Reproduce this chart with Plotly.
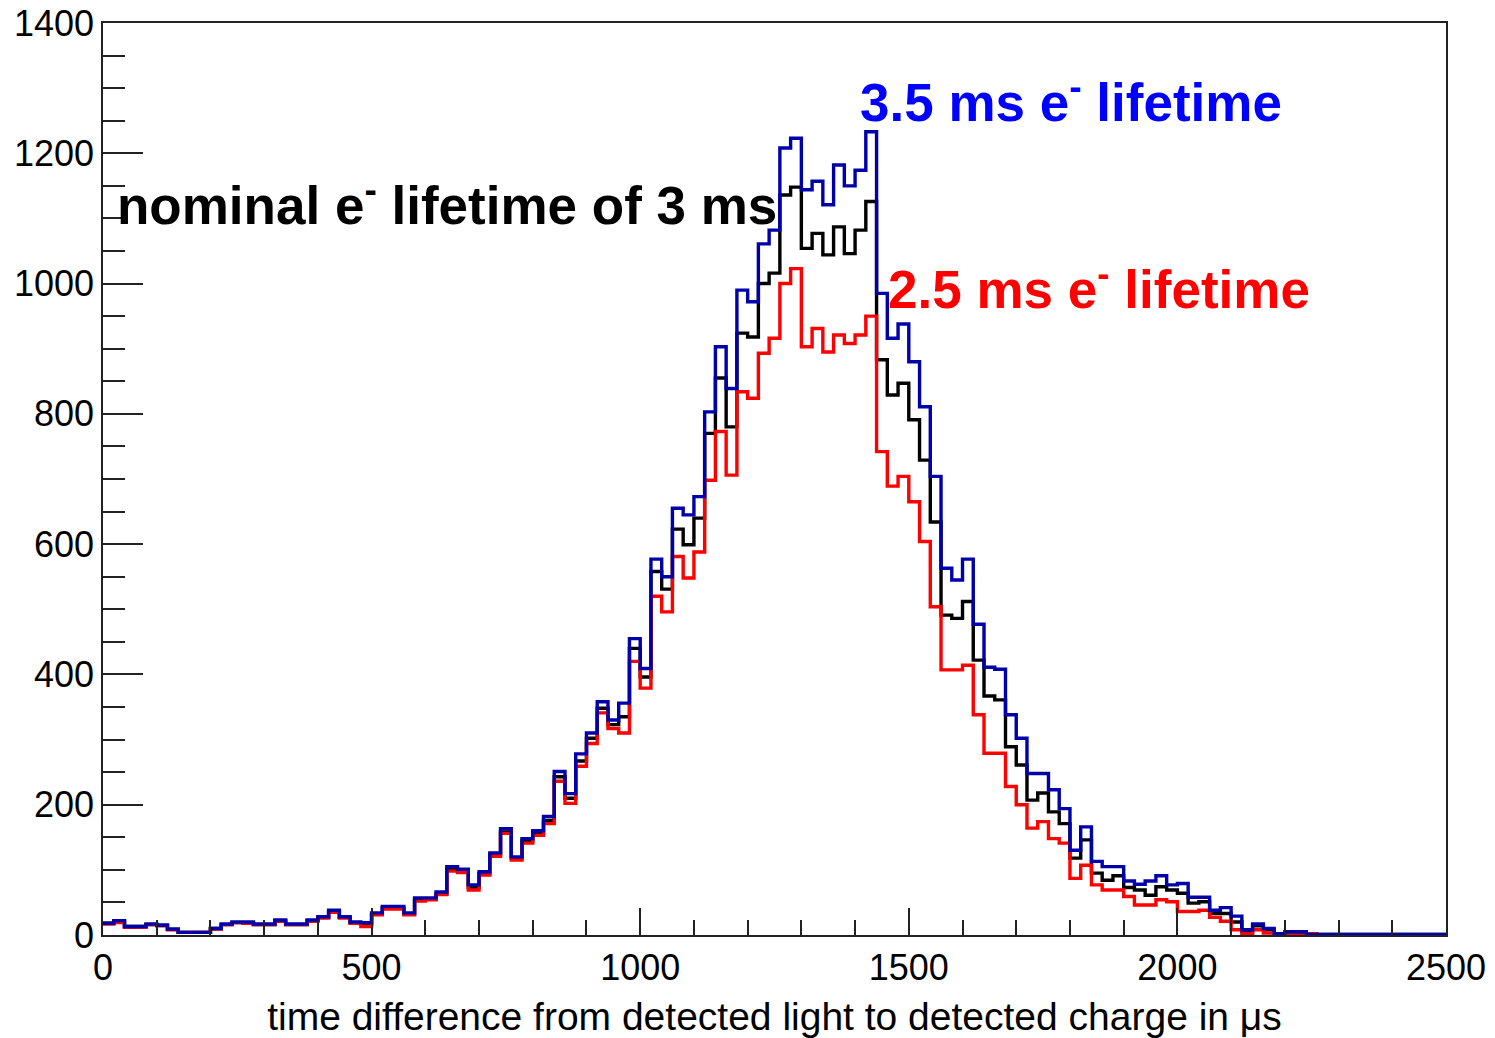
import plotly.graph_objects as go

# Histogram: 125 bins of 20 us from 0 to 2500 us
BIN_WIDTH = 20
N_BINS = 125
bin_edges = [i * BIN_WIDTH for i in range(N_BINS + 1)]

# 3.5 ms electron lifetime (blue)
counts_35ms = [
    18, 22, 13, 13, 17, 15, 9, 4, 4, 4,
    10, 17, 20, 20, 17, 17, 23, 17, 17, 23,
    28, 38, 28, 20, 19, 34, 44, 44, 34, 57,
    57, 66, 105, 101, 77, 97, 126, 163, 120, 148,
    160, 182, 251, 217, 278, 310, 358, 330, 356, 455,
    409, 577, 550, 655, 645, 673, 803, 903, 839, 990,
    972, 1061, 1082, 1208, 1223, 1144, 1157, 1121, 1182, 1150,
    1174, 1233, 985, 916, 938, 880, 811, 704, 563, 545,
    577, 477, 411, 408, 338, 302, 248, 248, 223, 194,
    130, 166, 113, 105, 105, 83, 78, 83, 91, 77,
    79, 58, 58, 38, 42, 29, 8, 17, 10, 2,
    5, 5, 1, 1, 1, 1, 1, 1, 1, 1,
    1, 1, 1, 1, 1,
]

# nominal 3 ms electron lifetime (black)
counts_3ms = [
    18, 21, 13, 13, 16, 15, 9, 4, 4, 4,
    10, 16, 19, 19, 16, 16, 22, 16, 16, 22,
    27, 36, 27, 19, 17, 32, 42, 42, 32, 55,
    55, 63, 101, 98, 73, 94, 123, 158, 118, 145,
    157, 176, 243, 210, 267, 302, 348, 323, 335, 440,
    396, 558, 531, 623, 599, 640, 770, 855, 780, 924,
    918, 1000, 1016, 1136, 1148, 1054, 1077, 1044, 1087, 1046,
    1082, 1126, 883, 829, 847, 791, 729, 634, 491, 486,
    512, 422, 367, 361, 289, 261, 207, 218, 189, 171,
    118, 146, 95, 84, 91, 73, 69, 61, 74, 69,
    64, 49, 51, 33, 33, 20, 5, 14, 8, 2,
    3, 3, 1, 1, 1, 1, 1, 1, 1, 1,
    1, 1, 1, 1, 1,
]

# 2.5 ms electron lifetime (red)
counts_25ms = [
    17, 19, 12, 12, 16, 14, 8, 4, 4, 4,
    9, 16, 19, 18, 16, 16, 21, 16, 16, 21,
    26, 35, 26, 18, 13, 31, 40, 40, 31, 52,
    54, 62, 98, 96, 69, 92, 121, 156, 115, 141,
    153, 171, 236, 202, 259, 294, 341, 317, 310, 420,
    379, 520, 496, 581, 548, 588, 698, 773, 706, 834,
    824, 893, 916, 1000, 1023, 903, 931, 895, 921, 908,
    921, 950, 742, 689, 704, 665, 604, 504, 407, 407,
    414, 338, 279, 279, 228, 200, 164, 174, 148, 141,
    87, 107, 77, 69, 69, 59, 46, 46, 54, 51,
    36, 36, 38, 27, 21, 8, 2, 8, 3, 1,
    0, 0, 2, 0, 0, 0, 0, 0, 0, 0,
    0, 0, 0, 0, 0,
]

X_TICKS = [0, 500, 1000, 1500, 2000, 2500]
Y_TICKS = [0, 200, 400, 600, 800, 1000, 1200, 1400]

FONT = "Liberation Sans, Arial, Helvetica, sans-serif"

fig = go.Figure()

series = [
    ("nominal 3 ms", counts_3ms, "#000000"),
    ("2.5 ms", counts_25ms, "#ff0000"),
    ("3.5 ms", counts_35ms, "#0000aa"),
]
for name, vals, col in series:
    fig.add_trace(go.Scatter(
        x=bin_edges,
        y=vals + [vals[-1]],
        mode="lines",
        line=dict(shape="hv", color=col, width=3.4),
        name=name,
        showlegend=False,
        hoverinfo="skip",
    ))

fig.update_layout(
    width=1495, height=1038,
    margin=dict(l=103, r=49, t=23, b=103),
    paper_bgcolor="white", plot_bgcolor="white",
    font=dict(family=FONT, color="black"),
    showlegend=False,
)

fig.update_xaxes(
    range=[0, 2500], automargin=False,
    tickvals=X_TICKS, ticktext=[str(v) for v in X_TICKS],
    ticks="inside", ticklen=27, tickwidth=1.5, tickcolor="#222",
    minor=dict(ticks="inside", ticklen=15, tickwidth=1.5, tickcolor="#222", dtick=100, tick0=0, showgrid=False),
    showline=True, mirror=True, linecolor="#222", linewidth=1.5,
    showgrid=False, zeroline=False,
    tickfont=dict(size=36, family=FONT, color="black"),
    title=dict(text="time difference from detected light to detected charge in μs",
               font=dict(size=39, family=FONT, color="black"), standoff=16),
)
fig.update_yaxes(
    range=[0, 1400], automargin=False,
    tickvals=Y_TICKS, ticktext=[str(v) for v in Y_TICKS],
    ticks="inside", ticklen=40, tickwidth=1.5, tickcolor="#222",
    minor=dict(ticks="inside", ticklen=22, tickwidth=1.5, tickcolor="#222", dtick=50, tick0=0, showgrid=False),
    showline=True, mirror=True, linecolor="#222", linewidth=1.5,
    showgrid=False, zeroline=False,
    tickfont=dict(size=36, family=FONT, color="black"),
)

annots = [
    ("<b>nominal e<sup>-</sup> lifetime of 3 ms</b>", 0.0093, 0.8045, "black"),
    ("<b>3.5 ms e<sup>-</sup> lifetime</b>", 0.5621, 0.9170, "#0000ff"),
    ("<b>2.5 ms e<sup>-</sup> lifetime</b>", 0.5830, 0.7127, "#ff0000"),
]
for txt, ax_, ay_, col in annots:
    fig.add_annotation(
        text=txt, xref="paper", yref="paper", x=ax_, y=ay_,
        xanchor="left", yanchor="middle", showarrow=False,
        font=dict(size=53, family=FONT, color=col),
    )

fig.write_html("out.html")
